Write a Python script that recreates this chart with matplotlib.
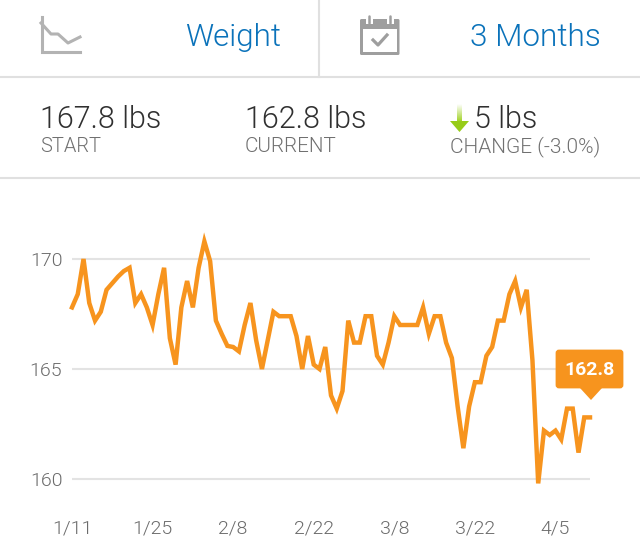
import numpy as np
import matplotlib
matplotlib.use("Agg")
import matplotlib.pyplot as plt
from matplotlib.patches import Rectangle, FancyBboxPatch, Polygon

weights = [167.8,168.4,170,168,167.2,167.6,168.6,168.9,169.2,169.45,169.6,168,168.4,167.8,167,168.4,
           169.6,166.4,165.2,167.8,169,167.8,169.6,170.8,169.9,167.2,166.6,166.05,166.0,165.8,167,168,
           166.3,165,166.3,167.6,167.4,167.4,167.4,166.5,165,166.5,165.2,165,166,163.8,163.2,164,
           167.2,166.2,166.2,167.4,167.4,165.6,165.2,166.2,167.4,167,167,167,167,167.8,166.6,167.4,
           167.4,166.2,165.5,163.3,161.4,163.3,164.4,164.4,165.6,166,167.2,167.2,168.4,169,167.8,168.6,
           165.4,159.8,162.2,162,162.2,161.8,163.2,163.2,161.2,162.8,162.8]
days = list(range(len(weights)))
x_ticks = [0, 14, 28, 42, 56, 70, 84]
x_labels = ["1/11", "1/25", "2/8", "2/22", "3/8", "3/22", "4/5"]
y_ticks = [160, 165, 170]

ORANGE = "#f7941e"
W, H = 640, 556
plt.rcParams["font.family"] = ["Roboto", "Liberation Sans", "DejaVu Sans"]
plt.rcParams["font.weight"] = 300
fig = plt.figure(figsize=(W/100, H/100), dpi=100, facecolor="white")

ax = fig.add_axes([72/W, 1-501/H, (590-72)/W, (501-215)/H])
ax.set_xlim(0, 90)
ax.set_ylim(159, 172)
ax.plot(days, weights, color=ORANGE, lw=3.2, solid_joinstyle="miter", zorder=3, clip_on=False)
ax.set_xticks(x_ticks, x_labels)
ax.set_yticks(y_ticks)
ax.grid(axis="y", color="#e3e3e3", lw=1.5)
ax.set_axisbelow(True)
ax.tick_params(length=0, labelsize=14, labelcolor="#6b6b6b")
ax.tick_params(axis="x", pad=13.5)
ax.tick_params(axis="y", pad=7)
for s in ax.spines.values():
    s.set_visible(False)
ax.patch.set_alpha(0)

ui = fig.add_axes([0, 0, 1, 1], zorder=5)
ui.set_xlim(0, W)
ui.set_ylim(H, 0)
ui.axis("off")
ui.patch.set_alpha(0)

SEP = "#e0e0e0"
ui.plot([0, W], [77, 77], color=SEP, lw=1.5)
ui.plot([0, W], [178, 178], color=SEP, lw=1.5)
ui.plot([319, 319], [0, 77], color=SEP, lw=1.5)

ICON = "#b3b3b3"
ui.plot([41.5, 41.5, 80], [17, 52, 52], color=ICON, lw=2.2, solid_joinstyle="miter")
ui.plot([41, 51, 58, 68, 80], [23, 34, 34, 43, 37], color=ICON, lw=2.2)

CAL = "#9e9e9e"
ui.add_patch(FancyBboxPatch((360, 19), 39.5, 36, boxstyle="round,pad=0,rounding_size=1.5", fc=CAL, ec="none"))
ui.add_patch(Rectangle((363, 29), 34, 22.5, color="white", lw=0))
ui.add_patch(Rectangle((365.5, 15), 7, 9, color="white", lw=0))
ui.add_patch(Rectangle((386.5, 15), 7, 9, color="white", lw=0))
ui.plot([369, 369], [15.5, 23], color=CAL, lw=1.8, solid_capstyle="round")
ui.plot([390, 390], [15.5, 23], color=CAL, lw=1.8, solid_capstyle="round")
ui.plot([373, 378, 387], [40, 45, 35], color=CAL, lw=2.3)

ui.text(185, 38, "Weight", color="#0a72ba", fontsize=22.6, va="center", ha="left")
ui.text(470, 38, "3 Months", color="#0a72ba", fontsize=22.7, va="center", ha="left")

DARK = "#303030"
GREY = "#707070"
ui.text(40, 120, "167.8 lbs", color=DARK, fontsize=22, va="center")
ui.text(245, 120, "162.8 lbs", color=DARK, fontsize=22, va="center")
ui.text(474, 120, "5 lbs", color=DARK, fontsize=22, va="center")
ui.text(40, 147, "START", color=GREY, fontsize=14.4, va="center")
ui.text(245, 147, "CURRENT", color=GREY, fontsize=14.9, va="center")
ui.text(450, 147, "CHANGE (-3.0%)", color=GREY, fontsize=15, va="center")

grad = np.linspace(0, 1, 64).reshape(-1, 1, 1) * np.array([[[0.62, 0.82, 0.12]]]) + \
       np.linspace(1, 0, 64).reshape(-1, 1, 1) * np.array([[[1.0, 1.0, 1.0]]])
ui.imshow(grad, extent=(457, 462, 122, 104), aspect="auto", zorder=2)
ui.add_patch(Polygon([[450, 121], [469, 121], [459.5, 132]], color="#97cc18", lw=0, zorder=3))
ui.set_xlim(0, W)
ui.set_ylim(H, 0)

ui.add_patch(FancyBboxPatch((557, 351), 65, 36, boxstyle="round,pad=0,rounding_size=2",
                            fc=ORANGE, ec=ORANGE, lw=2))
ui.add_patch(Polygon([[580, 388], [602, 388], [591, 400]], color=ORANGE, lw=0))
ui.text(589.5, 370, "162.8", color="white", fontsize=14, fontweight="bold", ha="center", va="center")

fig.savefig("out.png", dpi=100, facecolor="white")
